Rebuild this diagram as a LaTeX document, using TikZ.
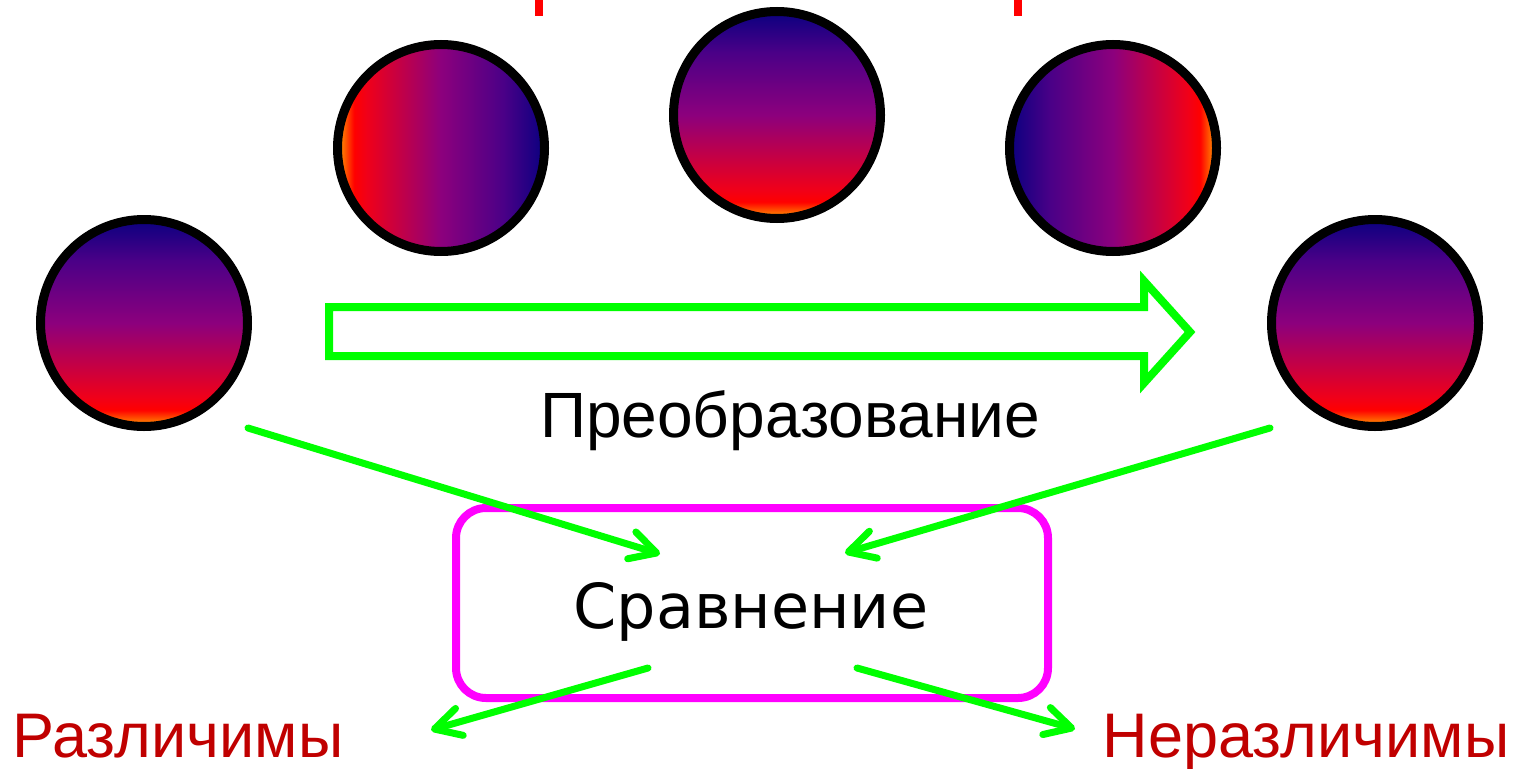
\documentclass[tikz,border=0pt]{standalone}
\usepackage{fontspec}
\setmainfont{Liberation Sans}
\newfontfamily\dejavu{DejaVu Sans}
\usetikzlibrary{arrows.meta}

% ball colours
\definecolor{borange}{RGB}{255,165,0}
\definecolor{bred}{RGB}{255,0,0}
\definecolor{bred2}{RGB}{240,0,25}
\definecolor{bpurple}{RGB}{140,0,125}
\definecolor{bviolet}{RGB}{75,0,135}
\definecolor{bnavy}{RGB}{10,0,128}
% line and label colours
\definecolor{lime}{RGB}{0,255,0}
\definecolor{mag}{RGB}{255,0,255}
\definecolor{dred}{RGB}{192,0,0}

% the ball shadings: bottom-to-top, left-to-right and right-to-left
\pgfdeclareverticalshading{ballv}{100bp}{color(0bp)=(borange); color(25bp)=(borange);
  color(29bp)=(bred); color(32bp)=(bred2); color(50bp)=(bpurple);
  color(65bp)=(bviolet); color(75bp)=(bnavy); color(100bp)=(bnavy)}
\pgfdeclarehorizontalshading{ballh}{100bp}{color(0bp)=(borange); color(25bp)=(borange);
  color(29bp)=(bred); color(32bp)=(bred2); color(50bp)=(bpurple);
  color(65bp)=(bviolet); color(75bp)=(bnavy); color(100bp)=(bnavy)}
\pgfdeclarehorizontalshading{ballhr}{100bp}{color(0bp)=(bnavy); color(25bp)=(bnavy);
  color(35bp)=(bviolet); color(50bp)=(bpurple); color(68bp)=(bred2);
  color(71bp)=(bred); color(75bp)=(borange); color(100bp)=(borange)}

\tikzset{
  ball/.style={circle, draw=black, line width=9pt, minimum size=207pt,
    inner sep=0pt, shade, shading=#1},
  conn/.style={draw=lime, line width=7pt, line cap=round,
    -{Straight Barb[length=26pt, width=28pt, round]}},
  bigtext/.style={font=\fontsize{62}{70}\selectfont, anchor=base, inner sep=0pt},
  verdict/.style={bigtext, text=dred, font=\fontsize{63}{70}\selectfont},
}

\begin{document}
\begin{tikzpicture}[x=1pt, y=-1pt]
\useasboundingbox (0,0) rectangle (1522,768);

% red marks along the top edge
\fill[bred] (535,0) rectangle (543,16);
\fill[bred] (1014,0) rectangle (1022,16);

% the balls
\node[ball=ballv]  (b1) at (144,323) {};
\node[ball=ballh]  (b2) at (441,148) {};
\node[ball=ballv]  (b3) at (777,115) {};
\node[ball=ballhr] (b4) at (1113,148) {};
\node[ball=ballv]  (b5) at (1375,323) {};

% hollow transformation arrow
\draw[lime, line width=8pt, line join=miter]
  (329,307) -- (1144,307) -- (1144,281) -- (1190,332) -- (1144,383)
  -- (1144,356) -- (329,356) -- cycle;
\node[bigtext, font=\fontsize{64}{72}\selectfont] (tr) at (790,437) {Преобразование};

% comparison box
\node[draw=mag, line width=8pt, rounded corners=30pt, minimum width=592pt,
  minimum height=190pt, inner sep=0pt] (cmpbox) at (752,603) {};
\node[bigtext, font=\dejavu\fontsize{62}{70}\selectfont] (cmp) at (751,628) {Сравнение};

% connector ends
\coordinate (s1) at (248,428);
\coordinate (e1) at (660,554);
\coordinate (s2) at (1270,428);
\coordinate (e2) at (845,553);
\coordinate (s3) at (648,668);
\coordinate (e3) at (431,730);
\coordinate (s4) at (857,668);
\coordinate (e4) at (1075,729);

\draw[conn] (s1) -- (e1);
\draw[conn] (s2) -- (e2);
\draw[conn] (s3) -- (e3);
\draw[conn] (s4) -- (e4);

% verdicts
\node[verdict] (diff) at (178,757) {Различимы};
\node[verdict] (same) at (1306,757) {Неразличимы};
\end{tikzpicture}
\end{document}
